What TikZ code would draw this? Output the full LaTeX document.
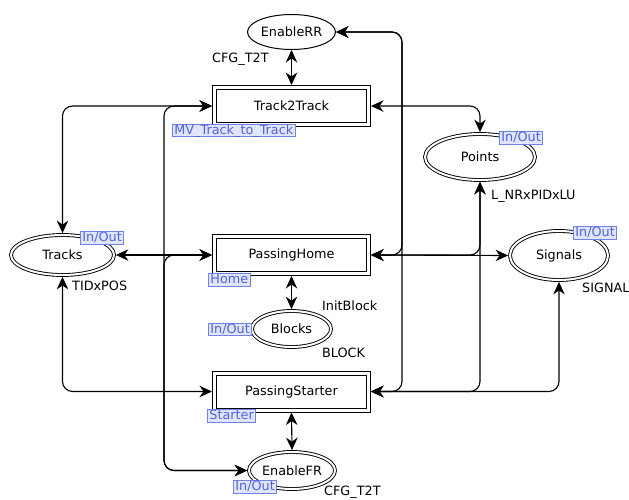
\documentclass[tikz,border=0pt]{standalone}
\usepackage{fontspec}
\setmainfont{DejaVu Sans}
\usetikzlibrary{arrows.meta,shapes.geometric}
\definecolor{tagfill}{RGB}{224,228,252}
\definecolor{tagline}{RGB}{110,130,232}
\definecolor{tagtext}{RGB}{80,100,215}

\begin{document}
\begin{tikzpicture}[x=1pt,y=-1pt,
  font=\fontsize{12.8}{15}\selectfont,
  >={Stealth[length=12.5pt,width=11.5pt,inset=4pt]},
  trans/.style={draw, double, line width=1pt, double distance=3pt,
    minimum width=154pt, minimum height=37pt, inner sep=0pt, outer sep=2.5pt},
  place/.style={ellipse, draw, double, line width=0.9pt, double distance=2pt,
    inner sep=0pt, outer sep=1.9pt},
  simpleplace/.style={ellipse, draw, line width=1pt, inner sep=0pt},
  arc/.style={line width=1.1pt, rounded corners=10pt},
  lbl/.style={inner sep=0pt, anchor=base west},
  tag/.style={draw=tagline, fill=tagfill, text=tagtext, line width=0.8pt,
    inner xsep=2pt, inner ysep=0.3pt, text height=9.5pt, text depth=2.5pt,
    anchor=west}
]
\useasboundingbox (0,0) rectangle (629,499);

% places
\node[simpleplace, minimum width=88pt, minimum height=35pt] (enRR) at (291.5,32) {EnableRR};
\node[place, minimum width=103pt, minimum height=40pt] (tracks) at (62.5,255) {Tracks};
\node[place, minimum width=79pt, minimum height=36pt] (blocks) at (291.5,329) {Blocks};
\node[place, minimum width=110pt, minimum height=46pt] (points) at (480,157) {Points};
\node[place, minimum width=98pt, minimum height=49pt] (signals) at (559,255.5) {Signals};
\node[place, minimum width=86pt, minimum height=37pt] (enFR) at (292,470.5) {EnableFR};

% substitution transitions
\node[trans] (t2t) at (291.5,106) {Track2Track};
\node[trans] (ph) at (291.5,255) {PassingHome};
\node[trans] (ps) at (291.5,391.5) {PassingStarter};

% routing columns
\coordinate (xl) at (164,0);
\coordinate (xr) at (402,0);

% arcs
\draw[arc,<->] (t2t.north) -- (enRR.south);
\draw[arc,<->] (ph.south) -- (blocks.north);
\draw[arc,<->] (ps.south) -- (enFR.north);

\draw[arc,<->] (tracks.north) |- (t2t.west);
\draw[arc,<->] (tracks.east) -- (ph.west);
\draw[arc,<->] (tracks.south) |- (ps.west);

\draw[arc,<->] (t2t.west) -- (xl |- t2t.west) -- (xl |- enFR.west) -- (enFR.west);
\draw[arc,<->] (ph.west) -- (xl |- ph.west) -- (xl |- enFR.west) -- (enFR.west);

\draw[arc,<->] (t2t.east) -| (points.north);

\draw[arc,<->] (ph.east) -| (xr |- enRR.east) -- (enRR.east);
\draw[arc,<->] (ps.east) -| (xr |- enRR.east) -- (enRR.east);

\draw[arc,<->] (ph.east) -| (points.south);
\draw[arc,<->] (ph.east) -- (signals.west);
\draw[arc,<->] (ps.east) -| (points.south);
\draw[arc,<->] (ps.east) -| (signals.south);

% inscriptions
\node[lbl] (c1) at (212,62.5) {CFG\_T2T};
\node[lbl] (c2) at (72,290.5) {TIDxPOS};
\node[lbl] (c3) at (322,310.5) {InitBlock};
\node[lbl] (c4) at (322,357.5) {BLOCK};
\node[lbl] (c5) at (491,199.5) {L\_NRxPIDxLU};
\node[lbl] (c6) at (582,292.5) {SIGNAL};
\node[lbl] (c7) at (324,495.5) {CFG\_T2T};

% port and subpage tags
\node[tag] (g1) at (172,130.5) {MV\_Track\_to\_Track};
\node[tag] (g2) at (80,238) {In/Out};
\node[tag] (g3) at (499,138) {In/Out};
\node[tag] (g4) at (573,233) {In/Out};
\node[tag] (g5) at (208,280) {Home};
\node[tag] (g6) at (208,329.5) {In/Out};
\node[tag] (g7) at (207,416) {Starter};
\node[tag] (g8) at (233,487) {In/Out};
\end{tikzpicture}
\end{document}
